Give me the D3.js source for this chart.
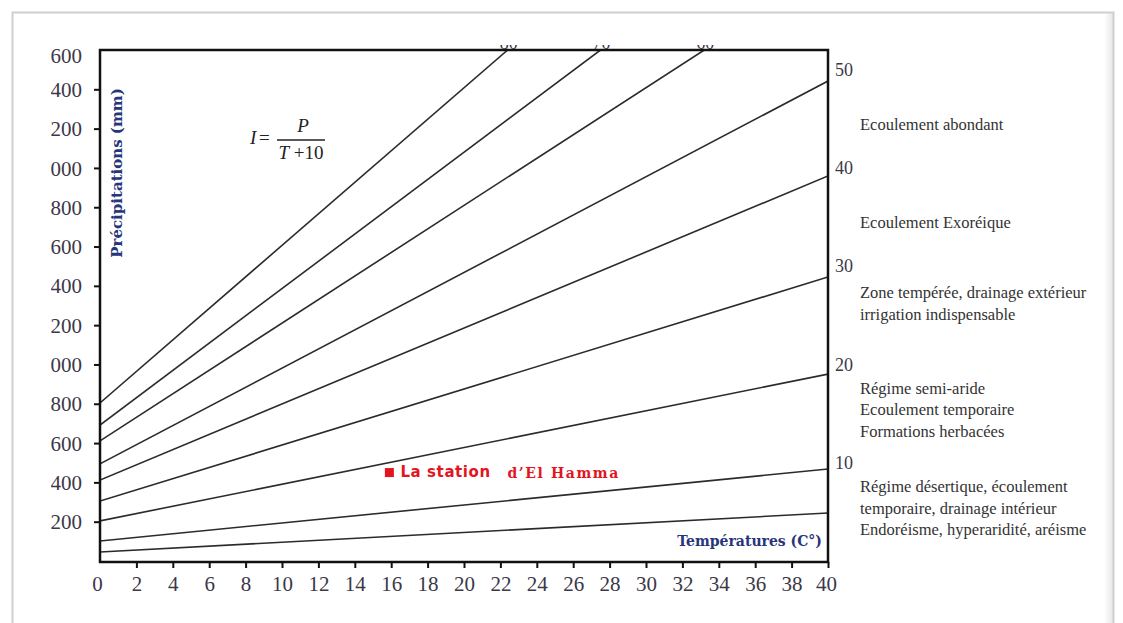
<!DOCTYPE html>
<html>
<head>
<meta charset="utf-8">
<script src="https://cdn.jsdelivr.net/npm/d3@7"></script>
<style>
  html, body { margin: 0; padding: 0; background: #fff; }
  svg { display: block; }
</style>
</head>
<body>
<svg id="chart" width="1123" height="623"></svg>
<script>
// De Martonne aridity index abacus: I = P / (T + 10)

// Temperature axis ticks (°C) and precipitation axis ticks (mm)
const temperatureTicks = [0, 2, 4, 6, 8, 10, 12, 14, 16, 18, 20, 22, 24, 26, 28, 30, 32, 34, 36, 38, 40];
const precipitationTicks = [200, 400, 600, 800, 1000, 1200, 1400, 1600, 1800, 2000, 2200, 2400, 2600];

// Iso-index lines: index value, precipitation at T = 0, and where each line leaves the frame
const indexValues = [5, 10, 20, 30, 40, 50, 60, 70, 80];
const lineStartP  = [46, 102, 204, 305, 412, 494, 611, 692, 804];
const lineEndT    = [40, 40, 40, 40, 40, 40, 33.2, 27.5, 22.4];
const lineEndP    = [244, 468, 951, 1445, 1959, 2442, 2600, 2600, 2600];

// Index labels along the right edge and along the top edge
const rightIndexLabels = [10, 20, 30, 40, 50];
const topIndexLabels = [60, 70, 80];

// Climate / drainage classes between index bands
const zoneBands = [[40, 50], [30, 40], [20, 30], [10, 20], [0, 10]];
const zoneTexts = [
  ["Ecoulement abondant"],
  ["Ecoulement Exoréique"],
  ["Zone tempérée, drainage extérieur", "irrigation indispensable"],
  ["Régime semi-aride", "Ecoulement temporaire", "Formations herbacées"],
  ["Régime désertique, écoulement", "temporaire, drainage intérieur", "Endoréisme, hyperaridité, aréisme"]
];

// Station plotted on the abacus
const stationName = ["La station", "d’El Hamma"];
const stationT = [15.9];
const stationP = [450];

const svg = d3.select("#chart");
const W = 1123, H = 623;

// frame of the figure
svg.append("rect").attr("x", 0).attr("y", 0).attr("width", W).attr("height", H).attr("fill", "#fff");
const defs = svg.append("defs");
const shade = defs.append("linearGradient").attr("id", "edgeShade").attr("x1", 0).attr("x2", 1);
shade.append("stop").attr("offset", 0).attr("stop-color", "#ffffff");
shade.append("stop").attr("offset", 1).attr("stop-color", "#e4e4e4");
svg.append("rect").attr("x", 1104).attr("y", 12).attr("width", 10).attr("height", H - 12).attr("fill", "url(#edgeShade)");
svg.append("path")
  .attr("d", `M12.5,${H} V12.5 H1113.5 V${H}`)
  .attr("fill", "none").attr("stroke", "#cfcfcf").attr("stroke-width", 2);

defs.append("clipPath").attr("id", "pictureClip")
  .append("rect").attr("x", 51).attr("y", 45).attr("width", 1050).attr("height", 573);

const g = svg.append("g").attr("clip-path", "url(#pictureClip)");

const x = d3.scaleLinear().domain([0, 40]).range([100, 828]);
const y = d3.scaleLinear().domain([0, 2600]).range([561, 50]);

const serif = "'Liberation Serif', 'Times New Roman', serif";
const labelColor = "#3c3848";

// iso-index lines, clipped to the plotting frame
defs.append("clipPath").attr("id", "plotClip")
  .append("rect").attr("x", x(0)).attr("y", y(2600)).attr("width", x(40) - x(0)).attr("height", y(0) - y(2600));

const lineGen = d3.line().x(d => x(d[0])).y(d => y(d[1]));
g.append("g").attr("clip-path", "url(#plotClip)")
  .selectAll("path")
  .data(indexValues.map((v, i) => [[0, lineStartP[i]], [lineEndT[i], lineEndP[i]]]))
  .join("path")
  .attr("d", lineGen)
  .attr("fill", "none")
  .attr("stroke", "#2b2b2b")
  .attr("stroke-width", 1.6);

// left axis
const yAxis = d3.axisLeft(y).tickValues(precipitationTicks).tickSize(6).tickPadding(12).tickFormat(d3.format("d"));
const yAxisG = g.append("g").attr("transform", `translate(${x(0)},0)`).call(yAxis);
yAxisG.select(".domain").remove();
yAxisG.selectAll(".tick line").attr("stroke", "#111").attr("stroke-width", 2)
  .filter(d => d === 2600).remove();
yAxisG.selectAll(".tick text")
  .attr("font-family", serif).attr("font-size", 21).attr("fill", labelColor)
  .attr("dy", d => d === 2600 ? "0.6em" : "0.34em");

// bottom axis
const xAxis = d3.axisBottom(x).tickValues(temperatureTicks).tickSize(6).tickPadding(8).tickFormat(d3.format("d"));
const xAxisG = g.append("g").attr("transform", `translate(0,${y(0) + 1})`).call(xAxis);
xAxisG.select(".domain").remove();
xAxisG.selectAll(".tick line").attr("stroke", "#111").attr("stroke-width", 2)
  .filter(d => d === 0).remove();
xAxisG.selectAll(".tick text")
  .attr("font-family", serif).attr("font-size", 21).attr("fill", labelColor)
  .attr("dx", d => d === 0 ? -3 : d === 40 ? -2 : 0);

// plot frame
g.append("rect")
  .attr("x", x(0)).attr("y", y(2600))
  .attr("width", x(40) - x(0)).attr("height", y(0) + 1 - y(2600))
  .attr("fill", "none").attr("stroke", "#111").attr("stroke-width", 2.5);

// index values at the right edge (P = I * (40 + 10))
g.append("g").selectAll("text")
  .data(rightIndexLabels)
  .join("text")
  .attr("x", x(40) + 7)
  .attr("y", d => y(d * 50) + 2)
  .attr("dominant-baseline", "middle")
  .attr("font-family", serif).attr("font-size", 18).attr("fill", labelColor)
  .text(d => d);

// index values above the top edge, where the steep lines exit
g.append("g").selectAll("text")
  .data(topIndexLabels)
  .join("text")
  .attr("x", d => x(lineEndT[indexValues.indexOf(d)]) + 1)
  .attr("y", y(2600) - 1)
  .attr("text-anchor", "middle")
  .attr("font-family", serif).attr("font-size", 18).attr("fill", labelColor)
  .text(d => d);

// class descriptions
const noteNudge = [7, 7, -10, -2, -2];
const lineGap = 21.5;
zoneBands.forEach((band, i) => {
  const mid = y((band[0] + band[1]) / 2 * 50) + noteNudge[i];
  const lines = zoneTexts[i];
  const top = mid - (lines.length - 1) * lineGap / 2;
  g.append("text")
    .attr("font-family", serif).attr("font-size", 16.5).attr("fill", "#333")
    .selectAll("tspan")
    .data(lines)
    .join("tspan")
    .attr("x", 860)
    .attr("y", (d, j) => top + j * lineGap)
    .attr("dominant-baseline", "middle")
    .text(d => d);
});

// axis titles
g.append("text")
  .attr("transform", `translate(${x(0) + 18},173) rotate(-90)`)
  .attr("text-anchor", "middle").attr("dominant-baseline", "middle")
  .attr("font-family", "'DejaVu Serif', serif").attr("font-weight", "bold")
  .attr("font-size", 15).attr("fill", "#27357a")
  .text("Précipitations (mm)");

g.append("text")
  .attr("x", x(40) - 6).attr("y", 542)
  .attr("text-anchor", "end").attr("dominant-baseline", "middle")
  .attr("font-family", "'DejaVu Serif', serif").attr("font-weight", "bold")
  .attr("font-size", 14).attr("fill", "#27357a")
  .text("Températures (C°)");

// formula of the index
const f = g.append("g").attr("font-family", serif).attr("font-size", 19).attr("fill", "#222");
f.append("text").attr("x", 250).attr("y", 140).attr("dominant-baseline", "middle").attr("font-style", "italic").text("I");
f.append("text").attr("x", 259).attr("y", 140).attr("dominant-baseline", "middle").text("=");
f.append("line").attr("x1", 277).attr("x2", 325).attr("y1", 140).attr("y2", 140).attr("stroke", "#222").attr("stroke-width", 1.3);
f.append("text").attr("x", 303).attr("y", 128).attr("text-anchor", "middle").attr("dominant-baseline", "middle").attr("font-style", "italic").text("P");
const den = f.append("text").attr("x", 301).attr("y", 155).attr("text-anchor", "middle").attr("dominant-baseline", "middle");
den.append("tspan").attr("font-style", "italic").text("T");
den.append("tspan").text(" +10");

// station marker and its name
const st = g.append("g");
st.selectAll("rect")
  .data(stationT.map((t, i) => [t, stationP[i]]))
  .join("rect")
  .attr("x", d => x(d[0]) - 4.5).attr("y", d => y(d[1]) - 4.5)
  .attr("width", 9).attr("height", 9)
  .attr("fill", "#e3141e");
st.append("text")
  .attr("x", x(stationT[0]) + 11).attr("y", y(stationP[0]))
  .attr("dominant-baseline", "middle")
  .attr("font-family", "'DejaVu Sans', sans-serif").attr("font-weight", "bold")
  .attr("font-size", 15).attr("letter-spacing", 0.6).attr("fill", "#e3141e")
  .text(stationName[0]);
st.append("text")
  .attr("x", x(stationT[0]) + 118).attr("y", y(stationP[0]) + 1)
  .attr("dominant-baseline", "middle")
  .attr("font-family", "'DejaVu Serif', serif").attr("font-weight", "bold")
  .attr("font-size", 14).attr("letter-spacing", 1.6).attr("fill", "#e3141e")
  .text(stationName[1]);
</script>
</body>
</html>
